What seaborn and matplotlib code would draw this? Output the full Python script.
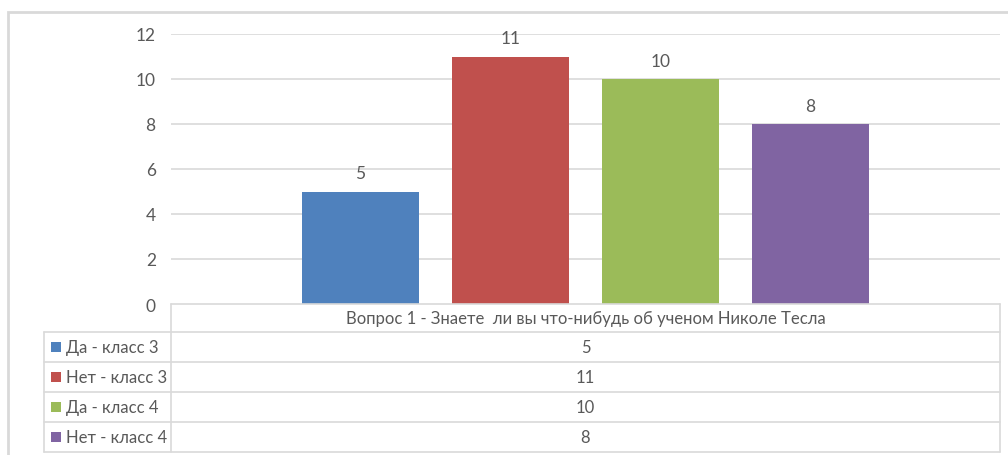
import matplotlib
matplotlib.use("Agg")
import matplotlib.pyplot as plt
import pandas as pd
import seaborn as sns
from matplotlib.lines import Line2D
from matplotlib.patches import Rectangle

# --- Data ---
question = "Вопрос 1 - Знаете  ли вы что-нибудь об ученом Николе Тесла"
series = ["Да - класс 3", "Нет - класс 3", "Да - класс 4", "Нет - класс 4"]
values = [5, 11, 10, 8]
colors = ["#4f81bd", "#c0504d", "#9bbb59", "#8064a2"]
y_ticks = [0, 2, 4, 6, 8, 10, 12]

W, H = 1008, 456
TEXT = "#595959"
GRID = "#d9d9d9"
FONT = "Lato"


def fx(x):
    return x / W


def fy(y):
    return 1 - y / H


sns.set_style("white")
plt.rcParams["font.family"] = [FONT, "DejaVu Sans"]

fig = plt.figure(figsize=(W / 100, H / 100), dpi=100)
ax = fig.add_axes([fx(171), fy(305), fx(1000) - fx(171), fy(35) - fy(305)])

df = pd.DataFrame({"series": series, "value": values})
sns.barplot(data=df, x="series", y="value", hue="series", palette=colors,
            width=0.78, saturation=1, legend=False, linewidth=0,
            ax=ax, zorder=3)

ax.set_xlim(-1.263, 4.263)
ax.set_ylim(0, 12)
ax.set_yticks(y_ticks)
ax.set_yticklabels([str(t) for t in y_ticks])
ax.tick_params(axis="y", length=0, pad=11, labelsize=12.5, labelcolor=TEXT)
ax.set_xticks([])
ax.set_xlabel("")
ax.set_ylabel("")
for t in y_ticks[1:]:
    ax.axhline(t, color=GRID, lw=1.2, zorder=1)
for s in ax.spines.values():
    s.set_visible(False)

# value labels above the bars
for i, v in enumerate(values):
    ax.text(i, v + 0.45, str(v), ha="center", va="bottom",
            fontsize=12.5, color=TEXT)

# --- outer chart border ---
fig.add_artist(Rectangle((fx(8), fy(470)), fx(1020) - fx(8), fy(13) - fy(470),
                         transform=fig.transFigure, fill=False,
                         edgecolor=GRID, lw=2, clip_on=False))

# --- data table ---
def hline(y, x0, x1):
    fig.add_artist(Line2D([fx(x0), fx(x1)], [fy(y), fy(y)], color=GRID, lw=1.2))


def vline(x, y0, y1):
    fig.add_artist(Line2D([fx(x), fx(x)], [fy(y0), fy(y1)], color=GRID, lw=1.2))


hline(305, 171, 1000)
row_edges = [333, 363, 393, 423, 453]
for y in row_edges:
    hline(y, 44, 1000)
vline(44, 333, 453)
vline(171, 305, 453)
vline(1000, 305, 453)

fig.text(fx(585.5), fy(319), question, ha="center", va="center",
         fontsize=12, color=TEXT)

for i, (name, v, c) in enumerate(zip(series, values, colors)):
    yc = (row_edges[i] + row_edges[i + 1]) / 2
    fig.add_artist(Rectangle((fx(51), fy(yc + 5)), fx(61) - fx(51), fy(yc - 5) - fy(yc + 5),
                             transform=fig.transFigure, facecolor=c, edgecolor="none"))
    fig.text(fx(66), fy(yc), name, ha="left", va="center", fontsize=12, color=TEXT)
    fig.text(fx(585.5), fy(yc), str(v), ha="center", va="center",
             fontsize=12, color=TEXT)

fig.savefig("out.png", dpi=100, facecolor="white")
